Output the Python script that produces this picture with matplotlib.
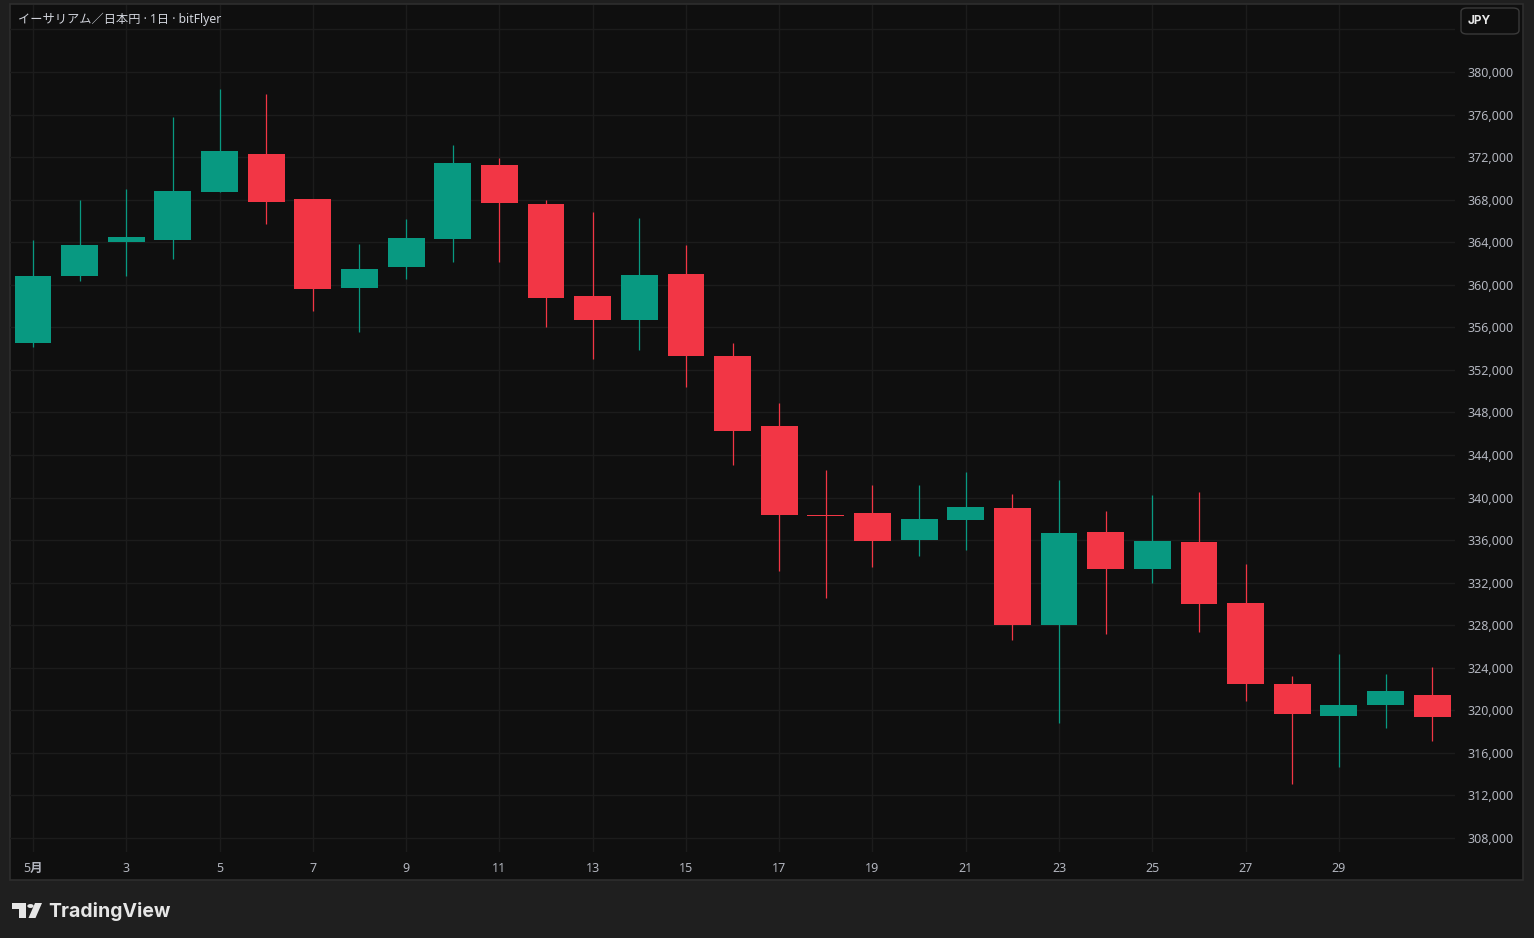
import numpy as np
import matplotlib.pyplot as plt
from matplotlib.patches import Rectangle, FancyBboxPatch, Polygon, Circle

plt.rcParams['font.family'] = ['Noto Sans', 'Noto Sans CJK JP', 'DejaVu Sans']

#%% daily candles, May (ETH/JPY, bitFlyer)
days = np.arange(1, 32)
opens = [354550, 360850, 364000, 364200, 368700, 372300, 368050, 359700, 361700, 364350,
         371250, 367600, 358950, 356650, 361000, 353300, 346700, 338400, 338550, 336000,
         337900, 339000, 328050, 336750, 333300, 335800, 330100, 322500, 319500, 320500,
         321450]
highs = [364200, 368000, 369000, 375800, 378400, 377950, 368100, 363850, 366200, 373150,
         371900, 368000, 366850, 366300, 363700, 354550, 348900, 342600, 341200, 341200,
         342400, 340350, 341650, 338750, 340250, 340500, 333750, 323200, 325250, 323400,
         324050]
lows = [354120, 360400, 360850, 362450, 368700, 365700, 357550, 355550, 360500, 362100,
        362150, 356050, 353000, 353900, 350400, 343050, 333050, 330600, 333450, 334550,
        335050, 326650, 318850, 327200, 332000, 327400, 320900, 313100, 314700, 318350,
        317150]
closes = [360800, 363750, 364500, 368800, 372550, 367800, 359600, 361500, 364400, 371450,
          367700, 358800, 356650, 360900, 353350, 346300, 338400, 338250, 335900, 338000,
          339100, 328050, 336650, 333300, 335900, 330000, 322500, 319650, 320500, 321800,
          319400]

x_ticks = [1, 3, 5, 7, 9, 11, 13, 15, 17, 19, 21, 23, 25, 27, 29]
x_labels = ['5月', '3', '5', '7', '9', '11', '13', '15', '17', '19', '21', '23', '25', '27', '29']
y_ticks = np.arange(308000, 384001, 4000)

title = 'イーサリアム／日本円 · 1日 · bitFlyer'

#%%
UP = '#089981'
DOWN = '#f23645'
BG = '#0f0f0f'
OUTER = '#1f1f1f'
GRID = '#1c1c1c'
TXT = '#b2b5be'

W, H = 1534, 938
fig = plt.figure(figsize=(W/100, H/100), dpi=100, facecolor=OUTER)

# chart panel (behind the axes)
fig.patches.append(Rectangle((10/W, 1-880/H), 1513/W, 876/H, transform=fig.transFigure,
                             facecolor=BG, edgecolor='#2e2e2e', linewidth=1.2, zorder=-1))

ax = fig.add_axes([10/W, 1-852/H, 1445/W, 847/H])
ax.set_facecolor(BG)
ax.patch.set_alpha(0)

body_w = 0.79
for d, o, h, l, c in zip(days, opens, highs, lows, closes):
    col = UP if c >= o else DOWN
    ax.vlines(d, l, h, color=col, linewidth=0.9, zorder=2)
    ax.add_patch(Rectangle((d - body_w/2, min(o, c)), body_w, max(abs(c - o), 150),
                           facecolor=col, edgecolor='none', zorder=3))

ax.set_xlim(0.507, 31.49)
ax.set_ylim(306680, 386300)

ax.set_xticks(x_ticks)
ax.set_xticklabels(x_labels)
ax.get_xticklabels()[0].set_fontweight('bold')
ax.set_yticks(y_ticks)
ax.set_yticklabels([f'{v:,}' if v < 384000 else '' for v in y_ticks])
ax.yaxis.tick_right()
ax.tick_params(axis='both', length=0, colors=TXT, labelsize=9)
ax.tick_params(axis='x', pad=7)
ax.tick_params(axis='y', pad=42)
for lab in ax.get_yticklabels():
    lab.set_horizontalalignment('right')
ax.grid(True, color=GRID, linewidth=1.0)
ax.set_axisbelow(True)
for s in ax.spines.values():
    s.set_visible(False)

fig.text(18/W, 1-19/H, title, color='#d1d4dc', fontsize=8.8, va='center', ha='left')

# currency button
fig.patches.append(FancyBboxPatch((1461/W, 1-34/H), 58/W, 26/H, transform=fig.transFigure,
                                  boxstyle='round,pad=0,rounding_size=0.004',
                                  facecolor=BG, edgecolor='#3a3a3a', linewidth=1))
fig.text(1468/W, 1-21/H, 'JPY', color='#e8e8e8', fontsize=8.5, va='center', ha='left',
         fontweight='bold', family=['Inter', 'DejaVu Sans'])

# TradingView logo
def fx(x): return x / W
def fy(y): return 1 - y / H
fig.patches.append(Polygon([(fx(12), fy(903)), (fx(26), fy(903)), (fx(26), fy(918)),
                            (fx(19), fy(918)), (fx(19), fy(909)), (fx(12), fy(909))],
                           closed=True, transform=fig.transFigure, facecolor='#e6e6e6'))
fig.patches.append(Circle((fx(30.5), fy(906)), 3.2/W, transform=fig.transFigure,
                          facecolor='#e6e6e6'))
fig.patches.append(Polygon([(fx(35), fy(903)), (fx(42), fy(903)), (fx(35.5), fy(918)),
                            (fx(28.5), fy(918))],
                           closed=True, transform=fig.transFigure, facecolor='#e6e6e6'))
fig.text(48/W, 1-911/H, 'TradingView', color='#e6e6e6', fontsize=14, va='center',
         ha='left', fontweight='bold', family=['Inter', 'DejaVu Sans'])

plt.savefig('out.png', dpi=100, facecolor=OUTER)
